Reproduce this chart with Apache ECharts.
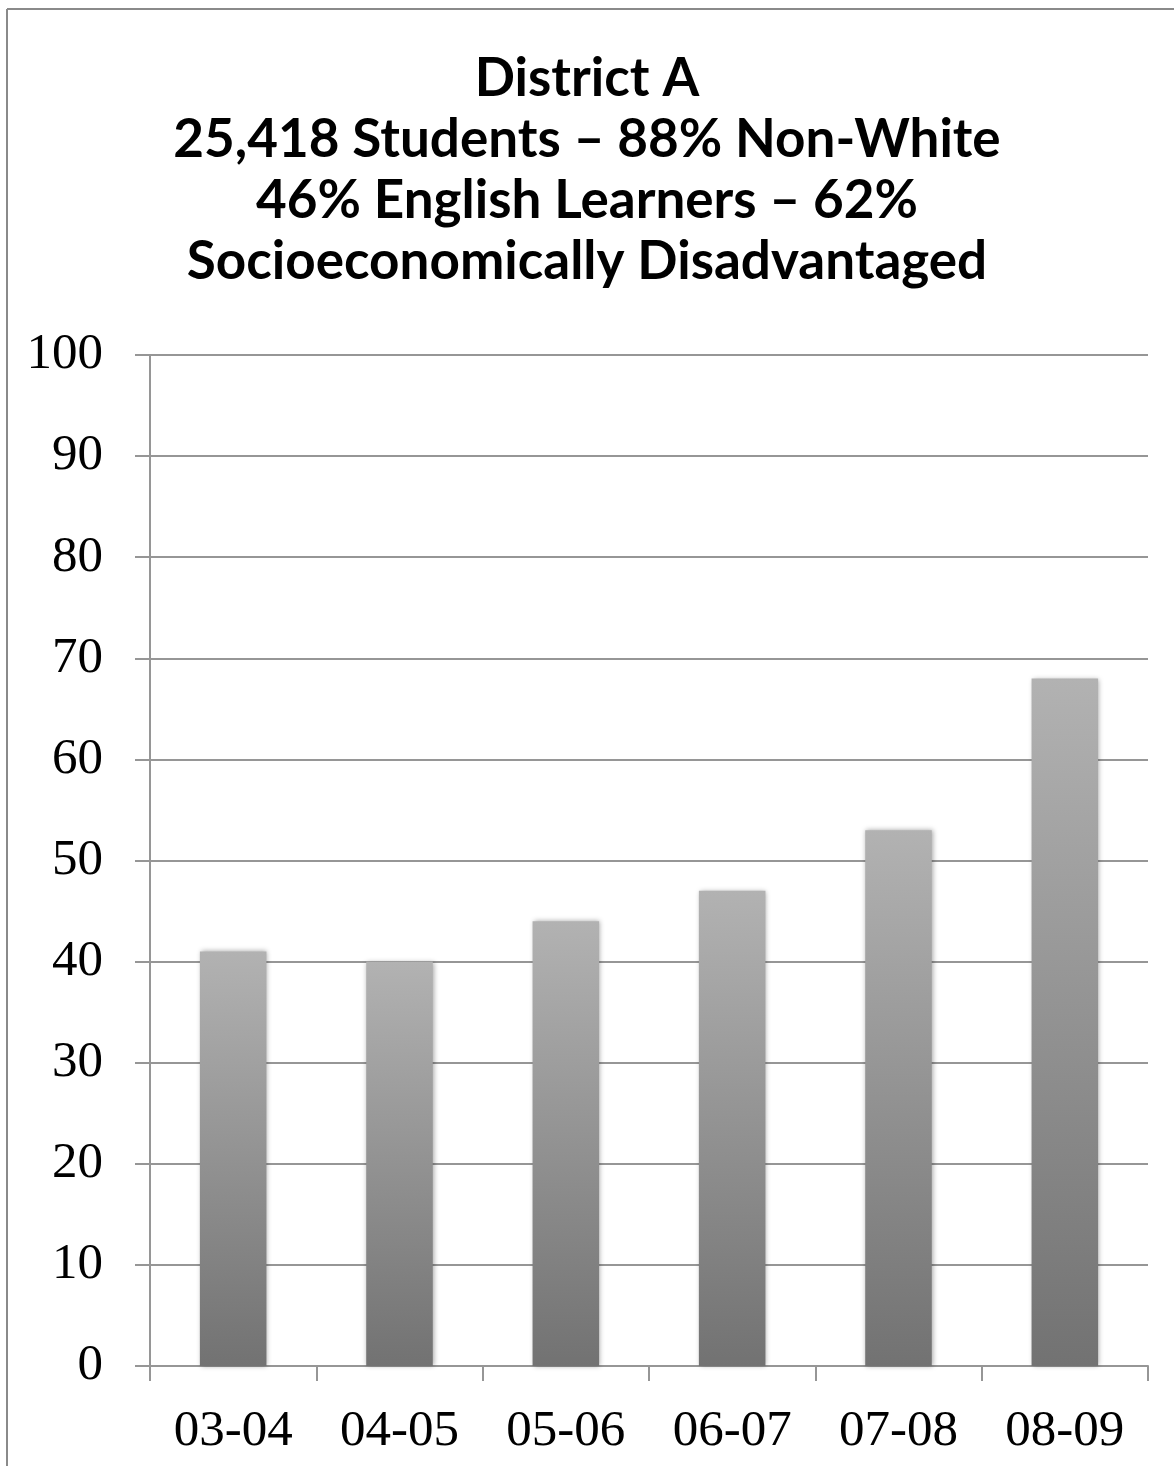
<!DOCTYPE html>
<html>
<head>
<meta charset="utf-8">
<script src="https://cdn.jsdelivr.net/npm/echarts@6/dist/echarts.min.js"></script>
<style>
  html, body { margin: 0; padding: 0; background: #fff; }
  #chart { width: 1174px; height: 1466px; }
</style>
</head>
<body>
<div id="chart"></div>
<script>
// School years and the share plotted for each
const years = ['03-04', '04-05', '05-06', '06-07', '07-08', '08-09'];
const values = [41, 40, 44, 47, 53, 68];
const titleLines = [
  'District A',
  '25,418 Students \u2013 88% Non-White',
  '46% English Learners \u2013 62%',
  'Socioeconomically Disadvantaged'
];

const chart = echarts.init(document.getElementById('chart'), null, { renderer: 'canvas' });
const axisGrey = '#969696';
const serif = '"Liberation Serif", "DejaVu Serif", serif';

chart.setOption({
  backgroundColor: '#ffffff',
  animation: false,
  title: {
    text: titleLines.join('\n'),
    left: 'center',
    top: 43,
    textStyle: {
      fontFamily: 'Lato, "Open Sans", sans-serif',
      fontWeight: 'bold',
      fontSize: 53,
      lineHeight: 61,
      color: '#000000'
    }
  },
  graphic: [
    // outer frame (left and top edges)
    { type: 'line', shape: { x1: 7, y1: 9, x2: 7, y2: 1466 }, style: { stroke: '#8a8a8a', lineWidth: 2 } },
    { type: 'line', shape: { x1: 7, y1: 9, x2: 1174, y2: 9 }, style: { stroke: '#8a8a8a', lineWidth: 2 } }
  ],
  grid: { left: 150, right: 26, top: 355, bottom: 100 },
  xAxis: {
    type: 'category',
    data: years,
    axisLine: { lineStyle: { color: axisGrey, width: 2 } },
    axisTick: { show: true, length: 15, lineStyle: { color: axisGrey, width: 2 } },
    axisLabel: { margin: 40, fontFamily: serif, fontSize: 51, color: '#000000' }
  },
  yAxis: {
    type: 'value',
    min: 0,
    max: 100,
    interval: 10,
    axisLine: { show: true, lineStyle: { color: axisGrey, width: 2 } },
    axisTick: { show: true, length: 15, lineStyle: { color: axisGrey, width: 2 } },
    splitLine: { show: true, lineStyle: { color: axisGrey, width: 2 } },
    axisLabel: { margin: 47, fontFamily: serif, fontSize: 51, color: '#000000', padding: [8, 0, 0, 0] }
  },
  series: [{
    type: 'bar',
    data: values,
    barWidth: '40%',
    itemStyle: {
      color: new echarts.graphic.LinearGradient(0, 0, 0, 1, [
        { offset: 0, color: '#b2b2b2' },
        { offset: 1, color: '#727272' }
      ]),
      shadowColor: 'rgba(0,0,0,0.35)',
      shadowBlur: 5,
      shadowOffsetX: 1,
      shadowOffsetY: 0
    }
  }]
});
</script>
</body>
</html>
